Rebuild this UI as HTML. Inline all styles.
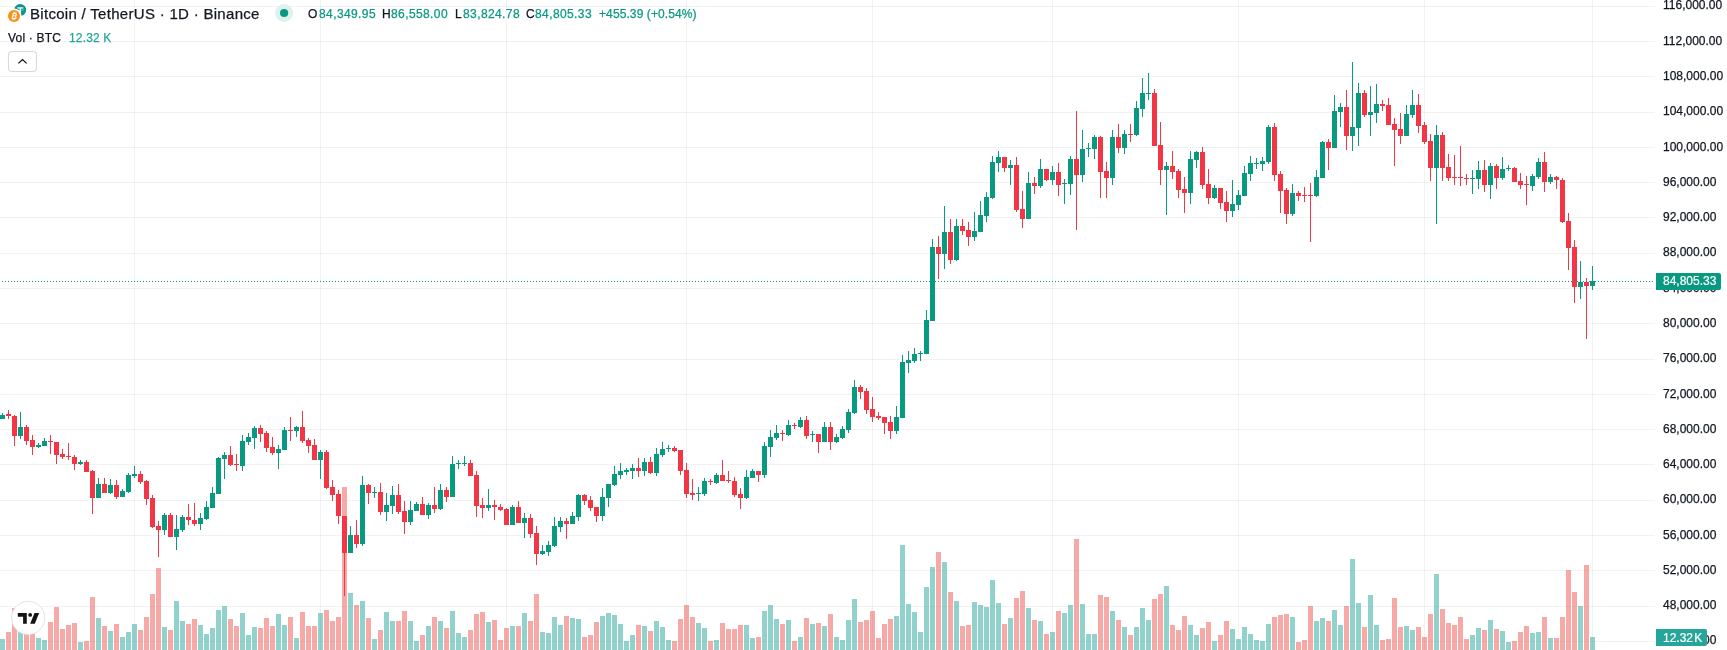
<!DOCTYPE html>
<html><head><meta charset="utf-8"><style>
html,body{margin:0;padding:0;background:#fff;-webkit-font-smoothing:antialiased;}
.aa{will-change:transform;}
body{width:1727px;height:650px;overflow:hidden;position:relative;font-family:"Liberation Sans",sans-serif;color:#131722;}
svg{position:absolute;left:0;top:0;}
.t{position:absolute;white-space:pre;line-height:1;will-change:transform;-webkit-text-stroke:0.25px currentColor;}
</style></head><body>
<svg width="1727" height="650" viewBox="0 0 1727 650" shape-rendering="crispEdges">
<rect x="0" y="6" width="1655" height="1" fill="rgba(0,0,0,0.052)"/>
<rect x="0" y="41" width="1655" height="1" fill="rgba(0,0,0,0.052)"/>
<rect x="0" y="76" width="1655" height="1" fill="rgba(0,0,0,0.052)"/>
<rect x="0" y="112" width="1655" height="1" fill="rgba(0,0,0,0.052)"/>
<rect x="0" y="147" width="1655" height="1" fill="rgba(0,0,0,0.052)"/>
<rect x="0" y="182" width="1655" height="1" fill="rgba(0,0,0,0.052)"/>
<rect x="0" y="217" width="1655" height="1" fill="rgba(0,0,0,0.052)"/>
<rect x="0" y="253" width="1655" height="1" fill="rgba(0,0,0,0.052)"/>
<rect x="0" y="288" width="1655" height="1" fill="rgba(0,0,0,0.052)"/>
<rect x="0" y="323" width="1655" height="1" fill="rgba(0,0,0,0.052)"/>
<rect x="0" y="359" width="1655" height="1" fill="rgba(0,0,0,0.052)"/>
<rect x="0" y="394" width="1655" height="1" fill="rgba(0,0,0,0.052)"/>
<rect x="0" y="429" width="1655" height="1" fill="rgba(0,0,0,0.052)"/>
<rect x="0" y="464" width="1655" height="1" fill="rgba(0,0,0,0.052)"/>
<rect x="0" y="500" width="1655" height="1" fill="rgba(0,0,0,0.052)"/>
<rect x="0" y="535" width="1655" height="1" fill="rgba(0,0,0,0.052)"/>
<rect x="0" y="570" width="1655" height="1" fill="rgba(0,0,0,0.052)"/>
<rect x="0" y="606" width="1655" height="1" fill="rgba(0,0,0,0.052)"/>
<rect x="0" y="641" width="1655" height="1" fill="rgba(0,0,0,0.052)"/>
<rect x="134" y="0" width="1" height="650" fill="rgba(0,0,0,0.052)"/>
<rect x="320" y="0" width="1" height="650" fill="rgba(0,0,0,0.052)"/>
<rect x="506" y="0" width="1" height="650" fill="rgba(0,0,0,0.052)"/>
<rect x="686" y="0" width="1" height="650" fill="rgba(0,0,0,0.052)"/>
<rect x="872" y="0" width="1" height="650" fill="rgba(0,0,0,0.052)"/>
<rect x="1052" y="0" width="1" height="650" fill="rgba(0,0,0,0.052)"/>
<rect x="1238" y="0" width="1" height="650" fill="rgba(0,0,0,0.052)"/>
<rect x="1424" y="0" width="1" height="650" fill="rgba(0,0,0,0.052)"/>
<rect x="1592" y="0" width="1" height="650" fill="rgba(0,0,0,0.052)"/>
<rect x="0" y="639" width="5" height="11" fill="rgba(38,166,154,0.5)"/>
<rect x="6" y="632" width="5" height="18" fill="rgba(239,83,80,0.5)"/>
<rect x="12" y="608" width="5" height="42" fill="rgba(239,83,80,0.5)"/>
<rect x="18" y="625" width="5" height="25" fill="rgba(38,166,154,0.5)"/>
<rect x="24" y="630" width="5" height="20" fill="rgba(239,83,80,0.5)"/>
<rect x="30" y="634" width="5" height="16" fill="rgba(239,83,80,0.5)"/>
<rect x="36" y="638" width="5" height="12" fill="rgba(38,166,154,0.5)"/>
<rect x="42" y="640" width="5" height="10" fill="rgba(38,166,154,0.5)"/>
<rect x="48" y="622" width="5" height="28" fill="rgba(239,83,80,0.5)"/>
<rect x="54" y="607" width="5" height="43" fill="rgba(239,83,80,0.5)"/>
<rect x="60" y="629" width="5" height="21" fill="rgba(239,83,80,0.5)"/>
<rect x="66" y="625" width="5" height="25" fill="rgba(239,83,80,0.5)"/>
<rect x="72" y="623" width="5" height="27" fill="rgba(239,83,80,0.5)"/>
<rect x="78" y="642" width="5" height="8" fill="rgba(38,166,154,0.5)"/>
<rect x="84" y="641" width="5" height="9" fill="rgba(239,83,80,0.5)"/>
<rect x="90" y="597" width="5" height="53" fill="rgba(239,83,80,0.5)"/>
<rect x="96" y="618" width="5" height="32" fill="rgba(38,166,154,0.5)"/>
<rect x="102" y="626" width="5" height="24" fill="rgba(239,83,80,0.5)"/>
<rect x="108" y="631" width="5" height="19" fill="rgba(38,166,154,0.5)"/>
<rect x="114" y="624" width="5" height="26" fill="rgba(239,83,80,0.5)"/>
<rect x="120" y="637" width="5" height="13" fill="rgba(38,166,154,0.5)"/>
<rect x="126" y="632" width="5" height="18" fill="rgba(38,166,154,0.5)"/>
<rect x="132" y="624" width="5" height="26" fill="rgba(38,166,154,0.5)"/>
<rect x="138" y="630" width="5" height="20" fill="rgba(239,83,80,0.5)"/>
<rect x="144" y="617" width="5" height="33" fill="rgba(239,83,80,0.5)"/>
<rect x="150" y="594" width="5" height="56" fill="rgba(239,83,80,0.5)"/>
<rect x="156" y="568" width="5" height="82" fill="rgba(239,83,80,0.5)"/>
<rect x="162" y="627" width="5" height="23" fill="rgba(38,166,154,0.5)"/>
<rect x="168" y="630" width="5" height="20" fill="rgba(239,83,80,0.5)"/>
<rect x="174" y="601" width="5" height="49" fill="rgba(38,166,154,0.5)"/>
<rect x="180" y="621" width="5" height="29" fill="rgba(38,166,154,0.5)"/>
<rect x="186" y="624" width="5" height="26" fill="rgba(239,83,80,0.5)"/>
<rect x="192" y="619" width="5" height="31" fill="rgba(239,83,80,0.5)"/>
<rect x="198" y="625" width="5" height="25" fill="rgba(38,166,154,0.5)"/>
<rect x="204" y="634" width="5" height="16" fill="rgba(38,166,154,0.5)"/>
<rect x="210" y="628" width="5" height="22" fill="rgba(38,166,154,0.5)"/>
<rect x="216" y="610" width="5" height="40" fill="rgba(38,166,154,0.5)"/>
<rect x="222" y="606" width="5" height="44" fill="rgba(38,166,154,0.5)"/>
<rect x="228" y="619" width="5" height="31" fill="rgba(239,83,80,0.5)"/>
<rect x="234" y="626" width="5" height="24" fill="rgba(239,83,80,0.5)"/>
<rect x="240" y="613" width="5" height="37" fill="rgba(38,166,154,0.5)"/>
<rect x="246" y="635" width="5" height="15" fill="rgba(38,166,154,0.5)"/>
<rect x="252" y="627" width="5" height="23" fill="rgba(38,166,154,0.5)"/>
<rect x="258" y="628" width="5" height="22" fill="rgba(239,83,80,0.5)"/>
<rect x="264" y="618" width="5" height="32" fill="rgba(239,83,80,0.5)"/>
<rect x="270" y="626" width="5" height="24" fill="rgba(239,83,80,0.5)"/>
<rect x="276" y="614" width="5" height="36" fill="rgba(38,166,154,0.5)"/>
<rect x="282" y="625" width="5" height="25" fill="rgba(38,166,154,0.5)"/>
<rect x="288" y="617" width="5" height="33" fill="rgba(239,83,80,0.5)"/>
<rect x="294" y="638" width="5" height="12" fill="rgba(38,166,154,0.5)"/>
<rect x="300" y="612" width="5" height="38" fill="rgba(239,83,80,0.5)"/>
<rect x="306" y="626" width="5" height="24" fill="rgba(239,83,80,0.5)"/>
<rect x="312" y="626" width="5" height="24" fill="rgba(239,83,80,0.5)"/>
<rect x="318" y="613" width="5" height="37" fill="rgba(38,166,154,0.5)"/>
<rect x="324" y="610" width="5" height="40" fill="rgba(239,83,80,0.5)"/>
<rect x="330" y="621" width="5" height="29" fill="rgba(239,83,80,0.5)"/>
<rect x="336" y="617" width="5" height="33" fill="rgba(239,83,80,0.5)"/>
<rect x="342" y="487" width="5" height="163" fill="rgba(239,83,80,0.5)"/>
<rect x="348" y="593" width="5" height="57" fill="rgba(38,166,154,0.5)"/>
<rect x="354" y="605" width="5" height="45" fill="rgba(239,83,80,0.5)"/>
<rect x="360" y="601" width="5" height="49" fill="rgba(38,166,154,0.5)"/>
<rect x="366" y="618" width="5" height="32" fill="rgba(239,83,80,0.5)"/>
<rect x="372" y="639" width="5" height="11" fill="rgba(38,166,154,0.5)"/>
<rect x="378" y="630" width="5" height="20" fill="rgba(239,83,80,0.5)"/>
<rect x="384" y="612" width="5" height="38" fill="rgba(38,166,154,0.5)"/>
<rect x="390" y="621" width="5" height="29" fill="rgba(38,166,154,0.5)"/>
<rect x="396" y="621" width="5" height="29" fill="rgba(239,83,80,0.5)"/>
<rect x="402" y="611" width="5" height="39" fill="rgba(239,83,80,0.5)"/>
<rect x="408" y="621" width="5" height="29" fill="rgba(38,166,154,0.5)"/>
<rect x="414" y="641" width="5" height="9" fill="rgba(38,166,154,0.5)"/>
<rect x="420" y="635" width="5" height="15" fill="rgba(239,83,80,0.5)"/>
<rect x="426" y="626" width="5" height="24" fill="rgba(38,166,154,0.5)"/>
<rect x="432" y="617" width="5" height="33" fill="rgba(239,83,80,0.5)"/>
<rect x="438" y="621" width="5" height="29" fill="rgba(38,166,154,0.5)"/>
<rect x="444" y="628" width="5" height="22" fill="rgba(239,83,80,0.5)"/>
<rect x="450" y="611" width="5" height="39" fill="rgba(38,166,154,0.5)"/>
<rect x="456" y="633" width="5" height="17" fill="rgba(38,166,154,0.5)"/>
<rect x="462" y="637" width="5" height="13" fill="rgba(38,166,154,0.5)"/>
<rect x="468" y="630" width="5" height="20" fill="rgba(239,83,80,0.5)"/>
<rect x="474" y="614" width="5" height="36" fill="rgba(239,83,80,0.5)"/>
<rect x="480" y="612" width="5" height="38" fill="rgba(239,83,80,0.5)"/>
<rect x="486" y="622" width="5" height="28" fill="rgba(38,166,154,0.5)"/>
<rect x="492" y="620" width="5" height="30" fill="rgba(239,83,80,0.5)"/>
<rect x="498" y="640" width="5" height="10" fill="rgba(239,83,80,0.5)"/>
<rect x="504" y="628" width="5" height="22" fill="rgba(239,83,80,0.5)"/>
<rect x="510" y="626" width="5" height="24" fill="rgba(38,166,154,0.5)"/>
<rect x="516" y="626" width="5" height="24" fill="rgba(239,83,80,0.5)"/>
<rect x="522" y="613" width="5" height="37" fill="rgba(38,166,154,0.5)"/>
<rect x="528" y="621" width="5" height="29" fill="rgba(239,83,80,0.5)"/>
<rect x="534" y="594" width="5" height="56" fill="rgba(239,83,80,0.5)"/>
<rect x="540" y="632" width="5" height="18" fill="rgba(38,166,154,0.5)"/>
<rect x="546" y="633" width="5" height="17" fill="rgba(38,166,154,0.5)"/>
<rect x="552" y="617" width="5" height="33" fill="rgba(38,166,154,0.5)"/>
<rect x="558" y="625" width="5" height="25" fill="rgba(38,166,154,0.5)"/>
<rect x="564" y="616" width="5" height="34" fill="rgba(239,83,80,0.5)"/>
<rect x="570" y="618" width="5" height="32" fill="rgba(38,166,154,0.5)"/>
<rect x="576" y="619" width="5" height="31" fill="rgba(38,166,154,0.5)"/>
<rect x="582" y="637" width="5" height="13" fill="rgba(239,83,80,0.5)"/>
<rect x="588" y="635" width="5" height="15" fill="rgba(239,83,80,0.5)"/>
<rect x="594" y="622" width="5" height="28" fill="rgba(239,83,80,0.5)"/>
<rect x="600" y="616" width="5" height="34" fill="rgba(38,166,154,0.5)"/>
<rect x="606" y="613" width="5" height="37" fill="rgba(38,166,154,0.5)"/>
<rect x="612" y="615" width="5" height="35" fill="rgba(38,166,154,0.5)"/>
<rect x="618" y="624" width="5" height="26" fill="rgba(38,166,154,0.5)"/>
<rect x="624" y="641" width="5" height="9" fill="rgba(38,166,154,0.5)"/>
<rect x="630" y="635" width="5" height="15" fill="rgba(38,166,154,0.5)"/>
<rect x="636" y="625" width="5" height="25" fill="rgba(239,83,80,0.5)"/>
<rect x="642" y="626" width="5" height="24" fill="rgba(38,166,154,0.5)"/>
<rect x="648" y="631" width="5" height="19" fill="rgba(239,83,80,0.5)"/>
<rect x="654" y="621" width="5" height="29" fill="rgba(38,166,154,0.5)"/>
<rect x="660" y="627" width="5" height="23" fill="rgba(38,166,154,0.5)"/>
<rect x="666" y="640" width="5" height="10" fill="rgba(38,166,154,0.5)"/>
<rect x="672" y="641" width="5" height="9" fill="rgba(239,83,80,0.5)"/>
<rect x="678" y="619" width="5" height="31" fill="rgba(239,83,80,0.5)"/>
<rect x="684" y="605" width="5" height="45" fill="rgba(239,83,80,0.5)"/>
<rect x="690" y="617" width="5" height="33" fill="rgba(239,83,80,0.5)"/>
<rect x="696" y="623" width="5" height="27" fill="rgba(38,166,154,0.5)"/>
<rect x="702" y="628" width="5" height="22" fill="rgba(38,166,154,0.5)"/>
<rect x="708" y="641" width="5" height="9" fill="rgba(239,83,80,0.5)"/>
<rect x="714" y="640" width="5" height="10" fill="rgba(38,166,154,0.5)"/>
<rect x="720" y="623" width="5" height="27" fill="rgba(239,83,80,0.5)"/>
<rect x="726" y="629" width="5" height="21" fill="rgba(239,83,80,0.5)"/>
<rect x="732" y="629" width="5" height="21" fill="rgba(239,83,80,0.5)"/>
<rect x="738" y="625" width="5" height="25" fill="rgba(239,83,80,0.5)"/>
<rect x="744" y="625" width="5" height="25" fill="rgba(38,166,154,0.5)"/>
<rect x="750" y="638" width="5" height="12" fill="rgba(38,166,154,0.5)"/>
<rect x="756" y="637" width="5" height="13" fill="rgba(239,83,80,0.5)"/>
<rect x="762" y="611" width="5" height="39" fill="rgba(38,166,154,0.5)"/>
<rect x="768" y="605" width="5" height="45" fill="rgba(38,166,154,0.5)"/>
<rect x="774" y="619" width="5" height="31" fill="rgba(38,166,154,0.5)"/>
<rect x="780" y="624" width="5" height="26" fill="rgba(239,83,80,0.5)"/>
<rect x="786" y="620" width="5" height="30" fill="rgba(38,166,154,0.5)"/>
<rect x="792" y="641" width="5" height="9" fill="rgba(239,83,80,0.5)"/>
<rect x="798" y="637" width="5" height="13" fill="rgba(38,166,154,0.5)"/>
<rect x="804" y="618" width="5" height="32" fill="rgba(239,83,80,0.5)"/>
<rect x="810" y="624" width="5" height="26" fill="rgba(38,166,154,0.5)"/>
<rect x="816" y="623" width="5" height="27" fill="rgba(239,83,80,0.5)"/>
<rect x="822" y="626" width="5" height="24" fill="rgba(38,166,154,0.5)"/>
<rect x="828" y="614" width="5" height="36" fill="rgba(239,83,80,0.5)"/>
<rect x="834" y="637" width="5" height="13" fill="rgba(38,166,154,0.5)"/>
<rect x="840" y="640" width="5" height="10" fill="rgba(38,166,154,0.5)"/>
<rect x="846" y="620" width="5" height="30" fill="rgba(38,166,154,0.5)"/>
<rect x="852" y="599" width="5" height="51" fill="rgba(38,166,154,0.5)"/>
<rect x="858" y="622" width="5" height="28" fill="rgba(239,83,80,0.5)"/>
<rect x="864" y="620" width="5" height="30" fill="rgba(239,83,80,0.5)"/>
<rect x="870" y="611" width="5" height="39" fill="rgba(239,83,80,0.5)"/>
<rect x="876" y="638" width="5" height="12" fill="rgba(239,83,80,0.5)"/>
<rect x="882" y="624" width="5" height="26" fill="rgba(239,83,80,0.5)"/>
<rect x="888" y="619" width="5" height="31" fill="rgba(239,83,80,0.5)"/>
<rect x="894" y="616" width="5" height="34" fill="rgba(38,166,154,0.5)"/>
<rect x="900" y="545" width="5" height="105" fill="rgba(38,166,154,0.5)"/>
<rect x="906" y="604" width="5" height="46" fill="rgba(38,166,154,0.5)"/>
<rect x="912" y="612" width="5" height="38" fill="rgba(38,166,154,0.5)"/>
<rect x="918" y="632" width="5" height="18" fill="rgba(38,166,154,0.5)"/>
<rect x="924" y="587" width="5" height="63" fill="rgba(38,166,154,0.5)"/>
<rect x="930" y="567" width="5" height="83" fill="rgba(38,166,154,0.5)"/>
<rect x="936" y="552" width="5" height="98" fill="rgba(239,83,80,0.5)"/>
<rect x="942" y="562" width="5" height="88" fill="rgba(38,166,154,0.5)"/>
<rect x="948" y="592" width="5" height="58" fill="rgba(239,83,80,0.5)"/>
<rect x="954" y="601" width="5" height="49" fill="rgba(38,166,154,0.5)"/>
<rect x="960" y="626" width="5" height="24" fill="rgba(239,83,80,0.5)"/>
<rect x="966" y="625" width="5" height="25" fill="rgba(239,83,80,0.5)"/>
<rect x="972" y="602" width="5" height="48" fill="rgba(38,166,154,0.5)"/>
<rect x="978" y="605" width="5" height="45" fill="rgba(38,166,154,0.5)"/>
<rect x="984" y="607" width="5" height="43" fill="rgba(38,166,154,0.5)"/>
<rect x="990" y="580" width="5" height="70" fill="rgba(38,166,154,0.5)"/>
<rect x="996" y="603" width="5" height="47" fill="rgba(38,166,154,0.5)"/>
<rect x="1002" y="624" width="5" height="26" fill="rgba(239,83,80,0.5)"/>
<rect x="1008" y="618" width="5" height="32" fill="rgba(38,166,154,0.5)"/>
<rect x="1014" y="598" width="5" height="52" fill="rgba(239,83,80,0.5)"/>
<rect x="1020" y="591" width="5" height="59" fill="rgba(239,83,80,0.5)"/>
<rect x="1026" y="608" width="5" height="42" fill="rgba(38,166,154,0.5)"/>
<rect x="1032" y="620" width="5" height="30" fill="rgba(239,83,80,0.5)"/>
<rect x="1038" y="621" width="5" height="29" fill="rgba(38,166,154,0.5)"/>
<rect x="1044" y="634" width="5" height="16" fill="rgba(239,83,80,0.5)"/>
<rect x="1050" y="632" width="5" height="18" fill="rgba(38,166,154,0.5)"/>
<rect x="1056" y="611" width="5" height="39" fill="rgba(239,83,80,0.5)"/>
<rect x="1062" y="613" width="5" height="37" fill="rgba(38,166,154,0.5)"/>
<rect x="1068" y="605" width="5" height="45" fill="rgba(38,166,154,0.5)"/>
<rect x="1074" y="539" width="5" height="111" fill="rgba(239,83,80,0.5)"/>
<rect x="1080" y="604" width="5" height="46" fill="rgba(38,166,154,0.5)"/>
<rect x="1086" y="634" width="5" height="16" fill="rgba(38,166,154,0.5)"/>
<rect x="1092" y="634" width="5" height="16" fill="rgba(38,166,154,0.5)"/>
<rect x="1098" y="595" width="5" height="55" fill="rgba(239,83,80,0.5)"/>
<rect x="1104" y="597" width="5" height="53" fill="rgba(239,83,80,0.5)"/>
<rect x="1110" y="611" width="5" height="39" fill="rgba(38,166,154,0.5)"/>
<rect x="1116" y="620" width="5" height="30" fill="rgba(239,83,80,0.5)"/>
<rect x="1122" y="627" width="5" height="23" fill="rgba(38,166,154,0.5)"/>
<rect x="1128" y="635" width="5" height="15" fill="rgba(239,83,80,0.5)"/>
<rect x="1134" y="627" width="5" height="23" fill="rgba(38,166,154,0.5)"/>
<rect x="1140" y="608" width="5" height="42" fill="rgba(38,166,154,0.5)"/>
<rect x="1146" y="620" width="5" height="30" fill="rgba(38,166,154,0.5)"/>
<rect x="1152" y="599" width="5" height="51" fill="rgba(239,83,80,0.5)"/>
<rect x="1158" y="594" width="5" height="56" fill="rgba(239,83,80,0.5)"/>
<rect x="1164" y="586" width="5" height="64" fill="rgba(38,166,154,0.5)"/>
<rect x="1170" y="625" width="5" height="25" fill="rgba(239,83,80,0.5)"/>
<rect x="1176" y="630" width="5" height="20" fill="rgba(239,83,80,0.5)"/>
<rect x="1182" y="616" width="5" height="34" fill="rgba(239,83,80,0.5)"/>
<rect x="1188" y="625" width="5" height="25" fill="rgba(38,166,154,0.5)"/>
<rect x="1194" y="635" width="5" height="15" fill="rgba(38,166,154,0.5)"/>
<rect x="1200" y="628" width="5" height="22" fill="rgba(239,83,80,0.5)"/>
<rect x="1206" y="622" width="5" height="28" fill="rgba(239,83,80,0.5)"/>
<rect x="1212" y="641" width="5" height="9" fill="rgba(38,166,154,0.5)"/>
<rect x="1218" y="635" width="5" height="15" fill="rgba(239,83,80,0.5)"/>
<rect x="1224" y="621" width="5" height="29" fill="rgba(239,83,80,0.5)"/>
<rect x="1230" y="629" width="5" height="21" fill="rgba(38,166,154,0.5)"/>
<rect x="1236" y="639" width="5" height="11" fill="rgba(38,166,154,0.5)"/>
<rect x="1242" y="627" width="5" height="23" fill="rgba(38,166,154,0.5)"/>
<rect x="1248" y="634" width="5" height="16" fill="rgba(38,166,154,0.5)"/>
<rect x="1254" y="640" width="5" height="10" fill="rgba(38,166,154,0.5)"/>
<rect x="1260" y="641" width="5" height="9" fill="rgba(38,166,154,0.5)"/>
<rect x="1266" y="624" width="5" height="26" fill="rgba(38,166,154,0.5)"/>
<rect x="1272" y="617" width="5" height="33" fill="rgba(239,83,80,0.5)"/>
<rect x="1278" y="615" width="5" height="35" fill="rgba(239,83,80,0.5)"/>
<rect x="1284" y="614" width="5" height="36" fill="rgba(239,83,80,0.5)"/>
<rect x="1290" y="617" width="5" height="33" fill="rgba(38,166,154,0.5)"/>
<rect x="1296" y="642" width="5" height="8" fill="rgba(239,83,80,0.5)"/>
<rect x="1302" y="640" width="5" height="10" fill="rgba(239,83,80,0.5)"/>
<rect x="1308" y="606" width="5" height="44" fill="rgba(239,83,80,0.5)"/>
<rect x="1314" y="621" width="5" height="29" fill="rgba(38,166,154,0.5)"/>
<rect x="1320" y="618" width="5" height="32" fill="rgba(38,166,154,0.5)"/>
<rect x="1326" y="621" width="5" height="29" fill="rgba(239,83,80,0.5)"/>
<rect x="1332" y="610" width="5" height="40" fill="rgba(38,166,154,0.5)"/>
<rect x="1338" y="625" width="5" height="25" fill="rgba(38,166,154,0.5)"/>
<rect x="1344" y="606" width="5" height="44" fill="rgba(239,83,80,0.5)"/>
<rect x="1350" y="559" width="5" height="91" fill="rgba(38,166,154,0.5)"/>
<rect x="1356" y="603" width="5" height="47" fill="rgba(38,166,154,0.5)"/>
<rect x="1362" y="627" width="5" height="23" fill="rgba(239,83,80,0.5)"/>
<rect x="1368" y="595" width="5" height="55" fill="rgba(38,166,154,0.5)"/>
<rect x="1374" y="625" width="5" height="25" fill="rgba(38,166,154,0.5)"/>
<rect x="1380" y="640" width="5" height="10" fill="rgba(239,83,80,0.5)"/>
<rect x="1386" y="639" width="5" height="11" fill="rgba(239,83,80,0.5)"/>
<rect x="1392" y="598" width="5" height="52" fill="rgba(239,83,80,0.5)"/>
<rect x="1398" y="627" width="5" height="23" fill="rgba(239,83,80,0.5)"/>
<rect x="1404" y="626" width="5" height="24" fill="rgba(38,166,154,0.5)"/>
<rect x="1410" y="630" width="5" height="20" fill="rgba(38,166,154,0.5)"/>
<rect x="1416" y="627" width="5" height="23" fill="rgba(239,83,80,0.5)"/>
<rect x="1422" y="637" width="5" height="13" fill="rgba(239,83,80,0.5)"/>
<rect x="1428" y="614" width="5" height="36" fill="rgba(239,83,80,0.5)"/>
<rect x="1434" y="574" width="5" height="76" fill="rgba(38,166,154,0.5)"/>
<rect x="1440" y="609" width="5" height="41" fill="rgba(239,83,80,0.5)"/>
<rect x="1446" y="623" width="5" height="27" fill="rgba(239,83,80,0.5)"/>
<rect x="1452" y="625" width="5" height="25" fill="rgba(239,83,80,0.5)"/>
<rect x="1458" y="617" width="5" height="33" fill="rgba(239,83,80,0.5)"/>
<rect x="1464" y="639" width="5" height="11" fill="rgba(239,83,80,0.5)"/>
<rect x="1470" y="635" width="5" height="15" fill="rgba(38,166,154,0.5)"/>
<rect x="1476" y="628" width="5" height="22" fill="rgba(38,166,154,0.5)"/>
<rect x="1482" y="630" width="5" height="20" fill="rgba(239,83,80,0.5)"/>
<rect x="1488" y="620" width="5" height="30" fill="rgba(38,166,154,0.5)"/>
<rect x="1494" y="629" width="5" height="21" fill="rgba(239,83,80,0.5)"/>
<rect x="1500" y="631" width="5" height="19" fill="rgba(38,166,154,0.5)"/>
<rect x="1506" y="642" width="5" height="8" fill="rgba(38,166,154,0.5)"/>
<rect x="1512" y="641" width="5" height="9" fill="rgba(239,83,80,0.5)"/>
<rect x="1518" y="632" width="5" height="18" fill="rgba(239,83,80,0.5)"/>
<rect x="1524" y="626" width="5" height="24" fill="rgba(239,83,80,0.5)"/>
<rect x="1530" y="633" width="5" height="17" fill="rgba(38,166,154,0.5)"/>
<rect x="1536" y="632" width="5" height="18" fill="rgba(38,166,154,0.5)"/>
<rect x="1542" y="617" width="5" height="33" fill="rgba(239,83,80,0.5)"/>
<rect x="1548" y="638" width="5" height="12" fill="rgba(38,166,154,0.5)"/>
<rect x="1554" y="638" width="5" height="12" fill="rgba(239,83,80,0.5)"/>
<rect x="1560" y="617" width="5" height="33" fill="rgba(239,83,80,0.5)"/>
<rect x="1566" y="570" width="5" height="80" fill="rgba(239,83,80,0.5)"/>
<rect x="1572" y="592" width="5" height="58" fill="rgba(239,83,80,0.5)"/>
<rect x="1578" y="606" width="5" height="44" fill="rgba(38,166,154,0.5)"/>
<rect x="1584" y="565" width="5" height="85" fill="rgba(239,83,80,0.5)"/>
<rect x="1590" y="637" width="5" height="13" fill="rgba(38,166,154,0.5)"/>
<rect x="2" y="413" width="1" height="6" fill="#089981"/>
<rect x="0" y="415" width="5" height="4" fill="#089981"/>
<rect x="8" y="410" width="1" height="9" fill="#f23645"/>
<rect x="6" y="414" width="5" height="2" fill="#f23645"/>
<rect x="14" y="415" width="1" height="31" fill="#f23645"/>
<rect x="12" y="416" width="5" height="20" fill="#f23645"/>
<rect x="20" y="412" width="1" height="27" fill="#089981"/>
<rect x="18" y="427" width="5" height="9" fill="#089981"/>
<rect x="26" y="425" width="1" height="20" fill="#f23645"/>
<rect x="24" y="427" width="5" height="14" fill="#f23645"/>
<rect x="32" y="435" width="1" height="20" fill="#f23645"/>
<rect x="30" y="440" width="5" height="7" fill="#f23645"/>
<rect x="38" y="443" width="1" height="5" fill="#089981"/>
<rect x="36" y="445" width="5" height="2" fill="#089981"/>
<rect x="44" y="438" width="1" height="8" fill="#089981"/>
<rect x="42" y="441" width="5" height="5" fill="#089981"/>
<rect x="50" y="435" width="1" height="19" fill="#f23645"/>
<rect x="48" y="441" width="5" height="1" fill="#f23645"/>
<rect x="56" y="442" width="1" height="22" fill="#f23645"/>
<rect x="54" y="442" width="5" height="13" fill="#f23645"/>
<rect x="62" y="449" width="1" height="10" fill="#f23645"/>
<rect x="60" y="454" width="5" height="3" fill="#f23645"/>
<rect x="68" y="443" width="1" height="17" fill="#f23645"/>
<rect x="66" y="456" width="5" height="1" fill="#f23645"/>
<rect x="74" y="455" width="1" height="15" fill="#f23645"/>
<rect x="72" y="457" width="5" height="7" fill="#f23645"/>
<rect x="80" y="460" width="1" height="5" fill="#089981"/>
<rect x="78" y="462" width="5" height="2" fill="#089981"/>
<rect x="86" y="460" width="1" height="12" fill="#f23645"/>
<rect x="84" y="462" width="5" height="10" fill="#f23645"/>
<rect x="92" y="470" width="1" height="44" fill="#f23645"/>
<rect x="90" y="471" width="5" height="27" fill="#f23645"/>
<rect x="98" y="478" width="1" height="20" fill="#089981"/>
<rect x="96" y="484" width="5" height="14" fill="#089981"/>
<rect x="104" y="478" width="1" height="15" fill="#f23645"/>
<rect x="102" y="484" width="5" height="9" fill="#f23645"/>
<rect x="110" y="479" width="1" height="15" fill="#089981"/>
<rect x="108" y="485" width="5" height="8" fill="#089981"/>
<rect x="116" y="480" width="1" height="19" fill="#f23645"/>
<rect x="114" y="485" width="5" height="12" fill="#f23645"/>
<rect x="122" y="489" width="1" height="8" fill="#089981"/>
<rect x="120" y="491" width="5" height="6" fill="#089981"/>
<rect x="128" y="473" width="1" height="20" fill="#089981"/>
<rect x="126" y="475" width="5" height="17" fill="#089981"/>
<rect x="134" y="466" width="1" height="12" fill="#089981"/>
<rect x="132" y="474" width="5" height="2" fill="#089981"/>
<rect x="140" y="471" width="1" height="13" fill="#f23645"/>
<rect x="138" y="474" width="5" height="8" fill="#f23645"/>
<rect x="146" y="480" width="1" height="25" fill="#f23645"/>
<rect x="144" y="481" width="5" height="18" fill="#f23645"/>
<rect x="152" y="495" width="1" height="33" fill="#f23645"/>
<rect x="150" y="498" width="5" height="29" fill="#f23645"/>
<rect x="158" y="521" width="1" height="36" fill="#f23645"/>
<rect x="156" y="526" width="5" height="4" fill="#f23645"/>
<rect x="164" y="513" width="1" height="22" fill="#089981"/>
<rect x="162" y="515" width="5" height="15" fill="#089981"/>
<rect x="170" y="513" width="1" height="24" fill="#f23645"/>
<rect x="168" y="515" width="5" height="22" fill="#f23645"/>
<rect x="176" y="515" width="1" height="35" fill="#089981"/>
<rect x="174" y="529" width="5" height="8" fill="#089981"/>
<rect x="182" y="515" width="1" height="17" fill="#089981"/>
<rect x="180" y="517" width="5" height="13" fill="#089981"/>
<rect x="188" y="504" width="1" height="21" fill="#f23645"/>
<rect x="186" y="517" width="5" height="3" fill="#f23645"/>
<rect x="194" y="503" width="1" height="23" fill="#f23645"/>
<rect x="192" y="520" width="5" height="4" fill="#f23645"/>
<rect x="200" y="513" width="1" height="17" fill="#089981"/>
<rect x="198" y="518" width="5" height="6" fill="#089981"/>
<rect x="206" y="501" width="1" height="19" fill="#089981"/>
<rect x="204" y="507" width="5" height="12" fill="#089981"/>
<rect x="212" y="487" width="1" height="21" fill="#089981"/>
<rect x="210" y="493" width="5" height="15" fill="#089981"/>
<rect x="218" y="457" width="1" height="37" fill="#089981"/>
<rect x="216" y="458" width="5" height="36" fill="#089981"/>
<rect x="224" y="452" width="1" height="27" fill="#089981"/>
<rect x="222" y="455" width="5" height="4" fill="#089981"/>
<rect x="230" y="446" width="1" height="20" fill="#f23645"/>
<rect x="228" y="455" width="5" height="10" fill="#f23645"/>
<rect x="236" y="454" width="1" height="17" fill="#f23645"/>
<rect x="234" y="464" width="5" height="1" fill="#f23645"/>
<rect x="242" y="435" width="1" height="36" fill="#089981"/>
<rect x="240" y="441" width="5" height="25" fill="#089981"/>
<rect x="248" y="433" width="1" height="12" fill="#089981"/>
<rect x="246" y="437" width="5" height="5" fill="#089981"/>
<rect x="254" y="426" width="1" height="23" fill="#089981"/>
<rect x="252" y="428" width="5" height="10" fill="#089981"/>
<rect x="260" y="425" width="1" height="17" fill="#f23645"/>
<rect x="258" y="428" width="5" height="6" fill="#f23645"/>
<rect x="266" y="431" width="1" height="21" fill="#f23645"/>
<rect x="264" y="433" width="5" height="15" fill="#f23645"/>
<rect x="272" y="437" width="1" height="18" fill="#f23645"/>
<rect x="270" y="447" width="5" height="6" fill="#f23645"/>
<rect x="278" y="445" width="1" height="24" fill="#089981"/>
<rect x="276" y="449" width="5" height="4" fill="#089981"/>
<rect x="284" y="427" width="1" height="23" fill="#089981"/>
<rect x="282" y="430" width="5" height="20" fill="#089981"/>
<rect x="290" y="417" width="1" height="24" fill="#f23645"/>
<rect x="288" y="430" width="5" height="1" fill="#f23645"/>
<rect x="296" y="426" width="1" height="11" fill="#089981"/>
<rect x="294" y="427" width="5" height="4" fill="#089981"/>
<rect x="302" y="411" width="1" height="32" fill="#f23645"/>
<rect x="300" y="427" width="5" height="14" fill="#f23645"/>
<rect x="308" y="438" width="1" height="15" fill="#f23645"/>
<rect x="306" y="440" width="5" height="6" fill="#f23645"/>
<rect x="314" y="439" width="1" height="21" fill="#f23645"/>
<rect x="312" y="445" width="5" height="15" fill="#f23645"/>
<rect x="320" y="450" width="1" height="29" fill="#089981"/>
<rect x="318" y="452" width="5" height="8" fill="#089981"/>
<rect x="326" y="450" width="1" height="39" fill="#f23645"/>
<rect x="324" y="452" width="5" height="36" fill="#f23645"/>
<rect x="332" y="480" width="1" height="21" fill="#f23645"/>
<rect x="330" y="487" width="5" height="8" fill="#f23645"/>
<rect x="338" y="490" width="1" height="34" fill="#f23645"/>
<rect x="336" y="494" width="5" height="22" fill="#f23645"/>
<rect x="344" y="516" width="1" height="80" fill="#f23645"/>
<rect x="342" y="516" width="5" height="37" fill="#f23645"/>
<rect x="350" y="526" width="1" height="27" fill="#089981"/>
<rect x="348" y="535" width="5" height="18" fill="#089981"/>
<rect x="356" y="520" width="1" height="28" fill="#f23645"/>
<rect x="354" y="535" width="5" height="9" fill="#f23645"/>
<rect x="362" y="476" width="1" height="70" fill="#089981"/>
<rect x="360" y="485" width="5" height="59" fill="#089981"/>
<rect x="368" y="484" width="1" height="20" fill="#f23645"/>
<rect x="366" y="485" width="5" height="8" fill="#f23645"/>
<rect x="374" y="487" width="1" height="11" fill="#089981"/>
<rect x="372" y="492" width="5" height="1" fill="#089981"/>
<rect x="380" y="483" width="1" height="32" fill="#f23645"/>
<rect x="378" y="492" width="5" height="20" fill="#f23645"/>
<rect x="386" y="493" width="1" height="28" fill="#089981"/>
<rect x="384" y="505" width="5" height="7" fill="#089981"/>
<rect x="392" y="486" width="1" height="28" fill="#089981"/>
<rect x="390" y="495" width="5" height="11" fill="#089981"/>
<rect x="398" y="484" width="1" height="30" fill="#f23645"/>
<rect x="396" y="495" width="5" height="17" fill="#f23645"/>
<rect x="404" y="501" width="1" height="33" fill="#f23645"/>
<rect x="402" y="511" width="5" height="11" fill="#f23645"/>
<rect x="410" y="501" width="1" height="24" fill="#089981"/>
<rect x="408" y="510" width="5" height="12" fill="#089981"/>
<rect x="416" y="502" width="1" height="9" fill="#089981"/>
<rect x="414" y="504" width="5" height="7" fill="#089981"/>
<rect x="422" y="497" width="1" height="18" fill="#f23645"/>
<rect x="420" y="504" width="5" height="11" fill="#f23645"/>
<rect x="428" y="503" width="1" height="16" fill="#089981"/>
<rect x="426" y="505" width="5" height="10" fill="#089981"/>
<rect x="434" y="487" width="1" height="26" fill="#f23645"/>
<rect x="432" y="505" width="5" height="4" fill="#f23645"/>
<rect x="440" y="484" width="1" height="26" fill="#089981"/>
<rect x="438" y="490" width="5" height="19" fill="#089981"/>
<rect x="446" y="487" width="1" height="15" fill="#f23645"/>
<rect x="444" y="490" width="5" height="7" fill="#f23645"/>
<rect x="452" y="456" width="1" height="41" fill="#089981"/>
<rect x="450" y="464" width="5" height="33" fill="#089981"/>
<rect x="458" y="460" width="1" height="9" fill="#089981"/>
<rect x="456" y="463" width="5" height="1" fill="#089981"/>
<rect x="464" y="456" width="1" height="10" fill="#089981"/>
<rect x="462" y="463" width="5" height="1" fill="#089981"/>
<rect x="470" y="460" width="1" height="16" fill="#f23645"/>
<rect x="468" y="463" width="5" height="13" fill="#f23645"/>
<rect x="476" y="471" width="1" height="46" fill="#f23645"/>
<rect x="474" y="475" width="5" height="31" fill="#f23645"/>
<rect x="482" y="498" width="1" height="20" fill="#f23645"/>
<rect x="480" y="505" width="5" height="3" fill="#f23645"/>
<rect x="488" y="489" width="1" height="22" fill="#089981"/>
<rect x="486" y="505" width="5" height="3" fill="#089981"/>
<rect x="494" y="500" width="1" height="20" fill="#f23645"/>
<rect x="492" y="505" width="5" height="2" fill="#f23645"/>
<rect x="500" y="504" width="1" height="7" fill="#f23645"/>
<rect x="498" y="507" width="5" height="3" fill="#f23645"/>
<rect x="506" y="508" width="1" height="17" fill="#f23645"/>
<rect x="504" y="509" width="5" height="16" fill="#f23645"/>
<rect x="512" y="505" width="1" height="20" fill="#089981"/>
<rect x="510" y="507" width="5" height="18" fill="#089981"/>
<rect x="518" y="501" width="1" height="22" fill="#f23645"/>
<rect x="516" y="507" width="5" height="16" fill="#f23645"/>
<rect x="524" y="513" width="1" height="25" fill="#089981"/>
<rect x="522" y="518" width="5" height="5" fill="#089981"/>
<rect x="530" y="514" width="1" height="24" fill="#f23645"/>
<rect x="528" y="518" width="5" height="16" fill="#f23645"/>
<rect x="536" y="526" width="1" height="39" fill="#f23645"/>
<rect x="534" y="533" width="5" height="21" fill="#f23645"/>
<rect x="542" y="545" width="1" height="10" fill="#089981"/>
<rect x="540" y="551" width="5" height="3" fill="#089981"/>
<rect x="548" y="541" width="1" height="15" fill="#089981"/>
<rect x="546" y="545" width="5" height="7" fill="#089981"/>
<rect x="554" y="517" width="1" height="30" fill="#089981"/>
<rect x="552" y="526" width="5" height="20" fill="#089981"/>
<rect x="560" y="517" width="1" height="15" fill="#089981"/>
<rect x="558" y="521" width="5" height="6" fill="#089981"/>
<rect x="566" y="518" width="1" height="21" fill="#f23645"/>
<rect x="564" y="521" width="5" height="3" fill="#f23645"/>
<rect x="572" y="512" width="1" height="12" fill="#089981"/>
<rect x="570" y="516" width="5" height="8" fill="#089981"/>
<rect x="578" y="494" width="1" height="27" fill="#089981"/>
<rect x="576" y="495" width="5" height="22" fill="#089981"/>
<rect x="584" y="494" width="1" height="11" fill="#f23645"/>
<rect x="582" y="495" width="5" height="6" fill="#f23645"/>
<rect x="590" y="496" width="1" height="15" fill="#f23645"/>
<rect x="588" y="500" width="5" height="8" fill="#f23645"/>
<rect x="596" y="507" width="1" height="15" fill="#f23645"/>
<rect x="594" y="507" width="5" height="9" fill="#f23645"/>
<rect x="602" y="488" width="1" height="33" fill="#089981"/>
<rect x="600" y="497" width="5" height="19" fill="#089981"/>
<rect x="608" y="484" width="1" height="23" fill="#089981"/>
<rect x="606" y="484" width="5" height="14" fill="#089981"/>
<rect x="614" y="466" width="1" height="20" fill="#089981"/>
<rect x="612" y="474" width="5" height="11" fill="#089981"/>
<rect x="620" y="463" width="1" height="16" fill="#089981"/>
<rect x="618" y="471" width="5" height="4" fill="#089981"/>
<rect x="626" y="468" width="1" height="7" fill="#089981"/>
<rect x="624" y="470" width="5" height="2" fill="#089981"/>
<rect x="632" y="464" width="1" height="15" fill="#089981"/>
<rect x="630" y="468" width="5" height="3" fill="#089981"/>
<rect x="638" y="458" width="1" height="19" fill="#f23645"/>
<rect x="636" y="468" width="5" height="3" fill="#f23645"/>
<rect x="644" y="458" width="1" height="18" fill="#089981"/>
<rect x="642" y="462" width="5" height="9" fill="#089981"/>
<rect x="650" y="457" width="1" height="17" fill="#f23645"/>
<rect x="648" y="462" width="5" height="11" fill="#f23645"/>
<rect x="656" y="448" width="1" height="28" fill="#089981"/>
<rect x="654" y="454" width="5" height="19" fill="#089981"/>
<rect x="662" y="442" width="1" height="15" fill="#089981"/>
<rect x="660" y="449" width="5" height="6" fill="#089981"/>
<rect x="668" y="445" width="1" height="7" fill="#089981"/>
<rect x="666" y="448" width="5" height="1" fill="#089981"/>
<rect x="674" y="446" width="1" height="6" fill="#f23645"/>
<rect x="672" y="448" width="5" height="3" fill="#f23645"/>
<rect x="680" y="450" width="1" height="25" fill="#f23645"/>
<rect x="678" y="450" width="5" height="21" fill="#f23645"/>
<rect x="686" y="463" width="1" height="35" fill="#f23645"/>
<rect x="684" y="470" width="5" height="24" fill="#f23645"/>
<rect x="692" y="479" width="1" height="21" fill="#f23645"/>
<rect x="690" y="493" width="5" height="2" fill="#f23645"/>
<rect x="698" y="487" width="1" height="14" fill="#089981"/>
<rect x="696" y="493" width="5" height="1" fill="#089981"/>
<rect x="704" y="478" width="1" height="18" fill="#089981"/>
<rect x="702" y="481" width="5" height="13" fill="#089981"/>
<rect x="710" y="479" width="1" height="6" fill="#f23645"/>
<rect x="708" y="481" width="5" height="1" fill="#f23645"/>
<rect x="716" y="473" width="1" height="11" fill="#089981"/>
<rect x="714" y="475" width="5" height="8" fill="#089981"/>
<rect x="722" y="460" width="1" height="21" fill="#f23645"/>
<rect x="720" y="475" width="5" height="6" fill="#f23645"/>
<rect x="728" y="471" width="1" height="12" fill="#f23645"/>
<rect x="726" y="480" width="5" height="1" fill="#f23645"/>
<rect x="734" y="477" width="1" height="20" fill="#f23645"/>
<rect x="732" y="481" width="5" height="14" fill="#f23645"/>
<rect x="740" y="488" width="1" height="21" fill="#f23645"/>
<rect x="738" y="494" width="5" height="4" fill="#f23645"/>
<rect x="746" y="470" width="1" height="29" fill="#089981"/>
<rect x="744" y="477" width="5" height="21" fill="#089981"/>
<rect x="752" y="469" width="1" height="9" fill="#089981"/>
<rect x="750" y="471" width="5" height="7" fill="#089981"/>
<rect x="758" y="471" width="1" height="11" fill="#f23645"/>
<rect x="756" y="471" width="5" height="4" fill="#f23645"/>
<rect x="764" y="442" width="1" height="36" fill="#089981"/>
<rect x="762" y="446" width="5" height="29" fill="#089981"/>
<rect x="770" y="430" width="1" height="27" fill="#089981"/>
<rect x="768" y="437" width="5" height="10" fill="#089981"/>
<rect x="776" y="425" width="1" height="15" fill="#089981"/>
<rect x="774" y="433" width="5" height="5" fill="#089981"/>
<rect x="782" y="430" width="1" height="11" fill="#f23645"/>
<rect x="780" y="433" width="5" height="1" fill="#f23645"/>
<rect x="788" y="420" width="1" height="16" fill="#089981"/>
<rect x="786" y="425" width="5" height="10" fill="#089981"/>
<rect x="794" y="423" width="1" height="6" fill="#f23645"/>
<rect x="792" y="425" width="5" height="1" fill="#f23645"/>
<rect x="800" y="417" width="1" height="11" fill="#089981"/>
<rect x="798" y="420" width="5" height="7" fill="#089981"/>
<rect x="806" y="416" width="1" height="23" fill="#f23645"/>
<rect x="804" y="420" width="5" height="16" fill="#f23645"/>
<rect x="812" y="431" width="1" height="11" fill="#089981"/>
<rect x="810" y="434" width="5" height="1" fill="#089981"/>
<rect x="818" y="434" width="1" height="19" fill="#f23645"/>
<rect x="816" y="434" width="5" height="8" fill="#f23645"/>
<rect x="824" y="422" width="1" height="20" fill="#089981"/>
<rect x="822" y="427" width="5" height="15" fill="#089981"/>
<rect x="830" y="422" width="1" height="28" fill="#f23645"/>
<rect x="828" y="427" width="5" height="15" fill="#f23645"/>
<rect x="836" y="434" width="1" height="9" fill="#089981"/>
<rect x="834" y="437" width="5" height="5" fill="#089981"/>
<rect x="842" y="426" width="1" height="13" fill="#089981"/>
<rect x="840" y="429" width="5" height="9" fill="#089981"/>
<rect x="848" y="409" width="1" height="24" fill="#089981"/>
<rect x="846" y="412" width="5" height="18" fill="#089981"/>
<rect x="854" y="380" width="1" height="34" fill="#089981"/>
<rect x="852" y="387" width="5" height="26" fill="#089981"/>
<rect x="860" y="385" width="1" height="14" fill="#f23645"/>
<rect x="858" y="387" width="5" height="5" fill="#f23645"/>
<rect x="866" y="388" width="1" height="26" fill="#f23645"/>
<rect x="864" y="391" width="5" height="19" fill="#f23645"/>
<rect x="872" y="397" width="1" height="25" fill="#f23645"/>
<rect x="870" y="409" width="5" height="8" fill="#f23645"/>
<rect x="878" y="412" width="1" height="8" fill="#f23645"/>
<rect x="876" y="416" width="5" height="2" fill="#f23645"/>
<rect x="884" y="417" width="1" height="17" fill="#f23645"/>
<rect x="882" y="417" width="5" height="6" fill="#f23645"/>
<rect x="890" y="416" width="1" height="23" fill="#f23645"/>
<rect x="888" y="422" width="5" height="9" fill="#f23645"/>
<rect x="896" y="406" width="1" height="28" fill="#089981"/>
<rect x="894" y="417" width="5" height="14" fill="#089981"/>
<rect x="902" y="355" width="1" height="63" fill="#089981"/>
<rect x="900" y="362" width="5" height="56" fill="#089981"/>
<rect x="908" y="351" width="1" height="22" fill="#089981"/>
<rect x="906" y="360" width="5" height="3" fill="#089981"/>
<rect x="914" y="348" width="1" height="15" fill="#089981"/>
<rect x="912" y="354" width="5" height="7" fill="#089981"/>
<rect x="920" y="351" width="1" height="10" fill="#089981"/>
<rect x="918" y="353" width="5" height="1" fill="#089981"/>
<rect x="926" y="310" width="1" height="44" fill="#089981"/>
<rect x="924" y="320" width="5" height="34" fill="#089981"/>
<rect x="932" y="239" width="1" height="82" fill="#089981"/>
<rect x="930" y="247" width="5" height="74" fill="#089981"/>
<rect x="938" y="236" width="1" height="43" fill="#f23645"/>
<rect x="936" y="247" width="5" height="7" fill="#f23645"/>
<rect x="944" y="206" width="1" height="63" fill="#089981"/>
<rect x="942" y="232" width="5" height="22" fill="#089981"/>
<rect x="950" y="219" width="1" height="45" fill="#f23645"/>
<rect x="948" y="232" width="5" height="28" fill="#f23645"/>
<rect x="956" y="219" width="1" height="42" fill="#089981"/>
<rect x="954" y="226" width="5" height="34" fill="#089981"/>
<rect x="962" y="219" width="1" height="16" fill="#f23645"/>
<rect x="960" y="226" width="5" height="5" fill="#f23645"/>
<rect x="968" y="222" width="1" height="24" fill="#f23645"/>
<rect x="966" y="230" width="5" height="7" fill="#f23645"/>
<rect x="974" y="212" width="1" height="29" fill="#089981"/>
<rect x="972" y="231" width="5" height="6" fill="#089981"/>
<rect x="980" y="201" width="1" height="31" fill="#089981"/>
<rect x="978" y="215" width="5" height="17" fill="#089981"/>
<rect x="986" y="192" width="1" height="30" fill="#089981"/>
<rect x="984" y="197" width="5" height="19" fill="#089981"/>
<rect x="992" y="156" width="1" height="43" fill="#089981"/>
<rect x="990" y="162" width="5" height="36" fill="#089981"/>
<rect x="998" y="151" width="1" height="21" fill="#089981"/>
<rect x="996" y="157" width="5" height="6" fill="#089981"/>
<rect x="1004" y="157" width="1" height="15" fill="#f23645"/>
<rect x="1002" y="157" width="5" height="11" fill="#f23645"/>
<rect x="1010" y="160" width="1" height="25" fill="#089981"/>
<rect x="1008" y="165" width="5" height="3" fill="#089981"/>
<rect x="1016" y="157" width="1" height="55" fill="#f23645"/>
<rect x="1014" y="165" width="5" height="45" fill="#f23645"/>
<rect x="1022" y="191" width="1" height="37" fill="#f23645"/>
<rect x="1020" y="209" width="5" height="10" fill="#f23645"/>
<rect x="1028" y="172" width="1" height="47" fill="#089981"/>
<rect x="1026" y="183" width="5" height="36" fill="#089981"/>
<rect x="1034" y="177" width="1" height="17" fill="#f23645"/>
<rect x="1032" y="183" width="5" height="3" fill="#f23645"/>
<rect x="1040" y="159" width="1" height="29" fill="#089981"/>
<rect x="1038" y="169" width="5" height="17" fill="#089981"/>
<rect x="1046" y="169" width="1" height="12" fill="#f23645"/>
<rect x="1044" y="169" width="5" height="11" fill="#f23645"/>
<rect x="1052" y="166" width="1" height="19" fill="#089981"/>
<rect x="1050" y="172" width="5" height="8" fill="#089981"/>
<rect x="1058" y="163" width="1" height="33" fill="#f23645"/>
<rect x="1056" y="172" width="5" height="13" fill="#f23645"/>
<rect x="1064" y="179" width="1" height="25" fill="#089981"/>
<rect x="1062" y="183" width="5" height="1" fill="#089981"/>
<rect x="1070" y="156" width="1" height="39" fill="#089981"/>
<rect x="1068" y="159" width="5" height="25" fill="#089981"/>
<rect x="1076" y="111" width="1" height="119" fill="#f23645"/>
<rect x="1074" y="159" width="5" height="16" fill="#f23645"/>
<rect x="1082" y="130" width="1" height="52" fill="#089981"/>
<rect x="1080" y="149" width="5" height="26" fill="#089981"/>
<rect x="1088" y="143" width="1" height="14" fill="#089981"/>
<rect x="1086" y="148" width="5" height="1" fill="#089981"/>
<rect x="1094" y="135" width="1" height="24" fill="#089981"/>
<rect x="1092" y="137" width="5" height="12" fill="#089981"/>
<rect x="1100" y="136" width="1" height="62" fill="#f23645"/>
<rect x="1098" y="137" width="5" height="35" fill="#f23645"/>
<rect x="1106" y="162" width="1" height="36" fill="#f23645"/>
<rect x="1104" y="171" width="5" height="7" fill="#f23645"/>
<rect x="1112" y="130" width="1" height="55" fill="#089981"/>
<rect x="1110" y="137" width="5" height="41" fill="#089981"/>
<rect x="1118" y="124" width="1" height="29" fill="#f23645"/>
<rect x="1116" y="137" width="5" height="11" fill="#f23645"/>
<rect x="1124" y="130" width="1" height="24" fill="#089981"/>
<rect x="1122" y="134" width="5" height="14" fill="#089981"/>
<rect x="1130" y="124" width="1" height="18" fill="#f23645"/>
<rect x="1128" y="134" width="5" height="1" fill="#f23645"/>
<rect x="1136" y="101" width="1" height="35" fill="#089981"/>
<rect x="1134" y="108" width="5" height="27" fill="#089981"/>
<rect x="1142" y="78" width="1" height="39" fill="#089981"/>
<rect x="1140" y="93" width="5" height="16" fill="#089981"/>
<rect x="1148" y="73" width="1" height="27" fill="#089981"/>
<rect x="1146" y="93" width="5" height="1" fill="#089981"/>
<rect x="1154" y="89" width="1" height="57" fill="#f23645"/>
<rect x="1152" y="93" width="5" height="53" fill="#f23645"/>
<rect x="1160" y="122" width="1" height="63" fill="#f23645"/>
<rect x="1158" y="145" width="5" height="25" fill="#f23645"/>
<rect x="1166" y="162" width="1" height="53" fill="#089981"/>
<rect x="1164" y="166" width="5" height="4" fill="#089981"/>
<rect x="1172" y="151" width="1" height="28" fill="#f23645"/>
<rect x="1170" y="166" width="5" height="6" fill="#f23645"/>
<rect x="1178" y="169" width="1" height="29" fill="#f23645"/>
<rect x="1176" y="171" width="5" height="19" fill="#f23645"/>
<rect x="1184" y="177" width="1" height="36" fill="#f23645"/>
<rect x="1182" y="189" width="5" height="4" fill="#f23645"/>
<rect x="1190" y="151" width="1" height="53" fill="#089981"/>
<rect x="1188" y="159" width="5" height="34" fill="#089981"/>
<rect x="1196" y="151" width="1" height="17" fill="#089981"/>
<rect x="1194" y="152" width="5" height="8" fill="#089981"/>
<rect x="1202" y="147" width="1" height="42" fill="#f23645"/>
<rect x="1200" y="152" width="5" height="33" fill="#f23645"/>
<rect x="1208" y="169" width="1" height="35" fill="#f23645"/>
<rect x="1206" y="184" width="5" height="14" fill="#f23645"/>
<rect x="1214" y="185" width="1" height="14" fill="#089981"/>
<rect x="1212" y="188" width="5" height="10" fill="#089981"/>
<rect x="1220" y="188" width="1" height="21" fill="#f23645"/>
<rect x="1218" y="188" width="5" height="15" fill="#f23645"/>
<rect x="1226" y="191" width="1" height="31" fill="#f23645"/>
<rect x="1224" y="202" width="5" height="9" fill="#f23645"/>
<rect x="1232" y="180" width="1" height="37" fill="#089981"/>
<rect x="1230" y="204" width="5" height="7" fill="#089981"/>
<rect x="1238" y="190" width="1" height="20" fill="#089981"/>
<rect x="1236" y="195" width="5" height="10" fill="#089981"/>
<rect x="1244" y="166" width="1" height="30" fill="#089981"/>
<rect x="1242" y="173" width="5" height="23" fill="#089981"/>
<rect x="1250" y="156" width="1" height="25" fill="#089981"/>
<rect x="1248" y="163" width="5" height="11" fill="#089981"/>
<rect x="1256" y="158" width="1" height="11" fill="#089981"/>
<rect x="1254" y="163" width="5" height="1" fill="#089981"/>
<rect x="1262" y="157" width="1" height="14" fill="#089981"/>
<rect x="1260" y="161" width="5" height="3" fill="#089981"/>
<rect x="1268" y="125" width="1" height="39" fill="#089981"/>
<rect x="1266" y="127" width="5" height="35" fill="#089981"/>
<rect x="1274" y="123" width="1" height="58" fill="#f23645"/>
<rect x="1272" y="127" width="5" height="48" fill="#f23645"/>
<rect x="1280" y="171" width="1" height="42" fill="#f23645"/>
<rect x="1278" y="174" width="5" height="17" fill="#f23645"/>
<rect x="1286" y="188" width="1" height="36" fill="#f23645"/>
<rect x="1284" y="190" width="5" height="24" fill="#f23645"/>
<rect x="1292" y="184" width="1" height="32" fill="#089981"/>
<rect x="1290" y="193" width="5" height="21" fill="#089981"/>
<rect x="1298" y="191" width="1" height="10" fill="#f23645"/>
<rect x="1296" y="193" width="5" height="3" fill="#f23645"/>
<rect x="1304" y="187" width="1" height="15" fill="#f23645"/>
<rect x="1302" y="195" width="5" height="1" fill="#f23645"/>
<rect x="1310" y="183" width="1" height="59" fill="#f23645"/>
<rect x="1308" y="195" width="5" height="1" fill="#f23645"/>
<rect x="1316" y="170" width="1" height="27" fill="#089981"/>
<rect x="1314" y="177" width="5" height="19" fill="#089981"/>
<rect x="1322" y="141" width="1" height="37" fill="#089981"/>
<rect x="1320" y="142" width="5" height="36" fill="#089981"/>
<rect x="1328" y="139" width="1" height="31" fill="#f23645"/>
<rect x="1326" y="142" width="5" height="6" fill="#f23645"/>
<rect x="1334" y="95" width="1" height="53" fill="#089981"/>
<rect x="1332" y="111" width="5" height="37" fill="#089981"/>
<rect x="1340" y="103" width="1" height="24" fill="#089981"/>
<rect x="1338" y="107" width="5" height="5" fill="#089981"/>
<rect x="1346" y="90" width="1" height="60" fill="#f23645"/>
<rect x="1344" y="107" width="5" height="29" fill="#f23645"/>
<rect x="1352" y="62" width="1" height="89" fill="#089981"/>
<rect x="1350" y="127" width="5" height="9" fill="#089981"/>
<rect x="1358" y="83" width="1" height="63" fill="#089981"/>
<rect x="1356" y="93" width="5" height="35" fill="#089981"/>
<rect x="1364" y="90" width="1" height="27" fill="#f23645"/>
<rect x="1362" y="93" width="5" height="22" fill="#f23645"/>
<rect x="1370" y="86" width="1" height="50" fill="#089981"/>
<rect x="1368" y="112" width="5" height="3" fill="#089981"/>
<rect x="1376" y="84" width="1" height="39" fill="#089981"/>
<rect x="1374" y="104" width="5" height="9" fill="#089981"/>
<rect x="1382" y="100" width="1" height="11" fill="#f23645"/>
<rect x="1380" y="104" width="5" height="2" fill="#f23645"/>
<rect x="1388" y="98" width="1" height="27" fill="#f23645"/>
<rect x="1386" y="105" width="5" height="20" fill="#f23645"/>
<rect x="1394" y="118" width="1" height="48" fill="#f23645"/>
<rect x="1392" y="124" width="5" height="6" fill="#f23645"/>
<rect x="1400" y="113" width="1" height="31" fill="#f23645"/>
<rect x="1398" y="129" width="5" height="7" fill="#f23645"/>
<rect x="1406" y="105" width="1" height="31" fill="#089981"/>
<rect x="1404" y="114" width="5" height="22" fill="#089981"/>
<rect x="1412" y="90" width="1" height="28" fill="#089981"/>
<rect x="1410" y="105" width="5" height="10" fill="#089981"/>
<rect x="1418" y="94" width="1" height="39" fill="#f23645"/>
<rect x="1416" y="105" width="5" height="21" fill="#f23645"/>
<rect x="1424" y="122" width="1" height="22" fill="#f23645"/>
<rect x="1422" y="125" width="5" height="17" fill="#f23645"/>
<rect x="1430" y="134" width="1" height="47" fill="#f23645"/>
<rect x="1428" y="141" width="5" height="27" fill="#f23645"/>
<rect x="1436" y="125" width="1" height="99" fill="#089981"/>
<rect x="1434" y="135" width="5" height="33" fill="#089981"/>
<rect x="1442" y="132" width="1" height="49" fill="#f23645"/>
<rect x="1440" y="135" width="5" height="33" fill="#f23645"/>
<rect x="1448" y="154" width="1" height="27" fill="#f23645"/>
<rect x="1446" y="167" width="5" height="11" fill="#f23645"/>
<rect x="1454" y="155" width="1" height="30" fill="#f23645"/>
<rect x="1452" y="177" width="5" height="1" fill="#f23645"/>
<rect x="1460" y="146" width="1" height="40" fill="#f23645"/>
<rect x="1458" y="177" width="5" height="1" fill="#f23645"/>
<rect x="1466" y="174" width="1" height="11" fill="#f23645"/>
<rect x="1464" y="178" width="5" height="1" fill="#f23645"/>
<rect x="1472" y="170" width="1" height="24" fill="#089981"/>
<rect x="1470" y="178" width="5" height="1" fill="#089981"/>
<rect x="1478" y="161" width="1" height="28" fill="#089981"/>
<rect x="1476" y="170" width="5" height="9" fill="#089981"/>
<rect x="1484" y="160" width="1" height="32" fill="#f23645"/>
<rect x="1482" y="170" width="5" height="15" fill="#f23645"/>
<rect x="1490" y="163" width="1" height="36" fill="#089981"/>
<rect x="1488" y="166" width="5" height="19" fill="#089981"/>
<rect x="1496" y="164" width="1" height="25" fill="#f23645"/>
<rect x="1494" y="166" width="5" height="12" fill="#f23645"/>
<rect x="1502" y="157" width="1" height="23" fill="#089981"/>
<rect x="1500" y="169" width="5" height="9" fill="#089981"/>
<rect x="1508" y="165" width="1" height="6" fill="#089981"/>
<rect x="1506" y="168" width="5" height="1" fill="#089981"/>
<rect x="1514" y="167" width="1" height="15" fill="#f23645"/>
<rect x="1512" y="168" width="5" height="14" fill="#f23645"/>
<rect x="1520" y="173" width="1" height="16" fill="#f23645"/>
<rect x="1518" y="181" width="5" height="4" fill="#f23645"/>
<rect x="1526" y="176" width="1" height="29" fill="#f23645"/>
<rect x="1524" y="184" width="5" height="1" fill="#f23645"/>
<rect x="1532" y="174" width="1" height="17" fill="#089981"/>
<rect x="1530" y="176" width="5" height="10" fill="#089981"/>
<rect x="1538" y="158" width="1" height="21" fill="#089981"/>
<rect x="1536" y="162" width="5" height="15" fill="#089981"/>
<rect x="1544" y="152" width="1" height="40" fill="#f23645"/>
<rect x="1542" y="162" width="5" height="20" fill="#f23645"/>
<rect x="1550" y="174" width="1" height="10" fill="#089981"/>
<rect x="1548" y="177" width="5" height="5" fill="#089981"/>
<rect x="1556" y="176" width="1" height="13" fill="#f23645"/>
<rect x="1554" y="177" width="5" height="3" fill="#f23645"/>
<rect x="1562" y="178" width="1" height="45" fill="#f23645"/>
<rect x="1560" y="180" width="5" height="42" fill="#f23645"/>
<rect x="1568" y="213" width="1" height="57" fill="#f23645"/>
<rect x="1566" y="221" width="5" height="27" fill="#f23645"/>
<rect x="1574" y="240" width="1" height="63" fill="#f23645"/>
<rect x="1572" y="247" width="5" height="40" fill="#f23645"/>
<rect x="1580" y="261" width="1" height="38" fill="#089981"/>
<rect x="1578" y="282" width="5" height="5" fill="#089981"/>
<rect x="1586" y="278" width="1" height="61" fill="#f23645"/>
<rect x="1584" y="282" width="5" height="4" fill="#f23645"/>
<rect x="1592" y="266" width="1" height="24" fill="#089981"/>
<rect x="1590" y="281" width="5" height="5" fill="#089981"/>
<line x1="-1" y1="281.5" x2="1654" y2="281.5" stroke="#089981" stroke-width="1" stroke-dasharray="1 2"/>
</svg>
<svg class="aa" width="1727" height="650" viewBox="0 0 1727 650">
<g font-family="Liberation Sans" font-size="12" fill="#131722" stroke="#131722" stroke-width="0.25">
<text x="1663" y="9.4">116,000.00</text>
<text x="1663" y="44.7">112,000.00</text>
<text x="1663" y="80.0">108,000.00</text>
<text x="1663" y="115.2">104,000.00</text>
<text x="1663" y="150.5">100,000.00</text>
<text x="1663" y="185.8">96,000.00</text>
<text x="1663" y="221.1">92,000.00</text>
<text x="1663" y="256.4">88,000.00</text>
<text x="1663" y="291.6">84,000.00</text>
<text x="1663" y="326.9">80,000.00</text>
<text x="1663" y="362.2">76,000.00</text>
<text x="1663" y="397.5">72,000.00</text>
<text x="1663" y="432.8">68,000.00</text>
<text x="1663" y="468.0">64,000.00</text>
<text x="1663" y="503.3">60,000.00</text>
<text x="1663" y="538.6">56,000.00</text>
<text x="1663" y="573.9">52,000.00</text>
<text x="1663" y="609.2">48,000.00</text>
<text x="1663" y="644.4">44,000.00</text>
</g>
<path d="M1656 273 H1719 A2 2 0 0 1 1721 275 V288 A2 2 0 0 1 1719 290 H1656 Z" fill="#089981"/>
<text x="1663" y="285" font-family="Liberation Sans" font-size="12" fill="#fff" stroke="#fff" stroke-width="0.2">84,805.33</text>
<path d="M1656 629 H1705 A2 2 0 0 1 1707 631 V644 A2 2 0 0 1 1705 646 H1656 Z" fill="#26a69a"/>
<text x="1663" y="642" font-family="Liberation Sans" font-size="12" fill="#fff" stroke="#fff" stroke-width="0.2" word-spacing="-2">12.32 K</text>
<!-- TV logo -->
<circle cx="28.2" cy="617.9" r="16.6" fill="#fff" stroke="#e3e3e6" stroke-width="1"/>
<path d="M17.8 613.1 H26.8 V623.8 H23.1 V616.8 H17.8 Z" fill="#131313"/>
<circle cx="30.15" cy="614.9" r="1.9" fill="#131313"/>
<path d="M34.5 613.1 H39.1 L34.8 623.8 H30.15 Z" fill="#131313"/>
<!-- chevron button -->
<rect x="8.5" y="51.5" width="28" height="20" rx="3.5" ry="3.5" fill="#fff" stroke="#d9d9d9" stroke-width="1.1"/>
<path d="M18.4 63.4 L22.5 59.6 L26.6 63.4" fill="none" stroke="#0a0a0a" stroke-width="1.25"/>
<!-- symbol icon -->
<circle cx="20.2" cy="9.9" r="6" fill="#0f9291"/>
<path d="M17.3 7.2 H23.3 V8.4 H21.0 V12.6 H19.6 V8.4 H17.3 Z" fill="#fff" opacity="0.9"/>
<ellipse cx="20.3" cy="9.6" rx="3.2" ry="1.1" fill="none" stroke="#fff" stroke-width="0.6" opacity="0.6"/>
<circle cx="14" cy="15.9" r="7.5" fill="#fff"/>
<circle cx="14" cy="15.9" r="6" fill="#f7931a"/>
<g transform="rotate(14 14 15.9)" fill="#fff">
<path d="M12.2 12.8 H14.9 Q16.6 12.8 16.6 14.3 Q16.6 15.4 15.6 15.7 Q17 16 17 17.4 Q17 19 15.1 19 H12.2 Z M13.4 13.9 V15.3 H14.8 Q15.4 15.3 15.4 14.6 Q15.4 13.9 14.8 13.9 Z M13.4 16.3 V17.9 H15 Q15.8 17.9 15.8 17.1 Q15.8 16.3 15 16.3 Z" fill-rule="evenodd"/>
<rect x="13.2" y="11.8" width="0.8" height="1.2"/><rect x="14.6" y="11.8" width="0.8" height="1.2"/>
<rect x="13.2" y="18.8" width="0.8" height="1.2"/><rect x="14.6" y="18.8" width="0.8" height="1.2"/>
</g>
<!-- status dot -->
<circle cx="284.1" cy="13" r="9" fill="#ddf1ed"/>
<circle cx="284.1" cy="13" r="4.1" fill="#089981"/>
</svg>
<div class="t" style="left:30px;top:6px;font-size:15px;letter-spacing:0.3px;">Bitcoin / TetherUS · 1D · Binance</div>
<div class="t" style="left:308px;top:8px;font-size:12px;">O</div>
<div class="t" style="left:319px;top:8px;font-size:12px;letter-spacing:0.4px;color:#089981">84,349.95</div>
<div class="t" style="left:382px;top:8px;font-size:12px;">H</div>
<div class="t" style="left:391px;top:8px;font-size:12px;letter-spacing:0.4px;color:#089981">86,558.00</div>
<div class="t" style="left:455px;top:8px;font-size:12px;">L</div>
<div class="t" style="left:463px;top:8px;font-size:12px;letter-spacing:0.4px;color:#089981">83,824.78</div>
<div class="t" style="left:526px;top:8px;font-size:12px;">C</div>
<div class="t" style="left:535px;top:8px;font-size:12px;letter-spacing:0.4px;color:#089981">84,805.33</div>
<div class="t" style="left:599px;top:8px;font-size:12px;letter-spacing:0.1px;color:#089981">+455.39 (+0.54%)</div>
<div class="t" style="left:8px;top:32px;font-size:12px;letter-spacing:0.2px;">Vol · BTC</div>
<div class="t" style="left:69px;top:32px;font-size:12px;letter-spacing:0.15px;color:#26a69a">12.32 K</div>
</body></html>
